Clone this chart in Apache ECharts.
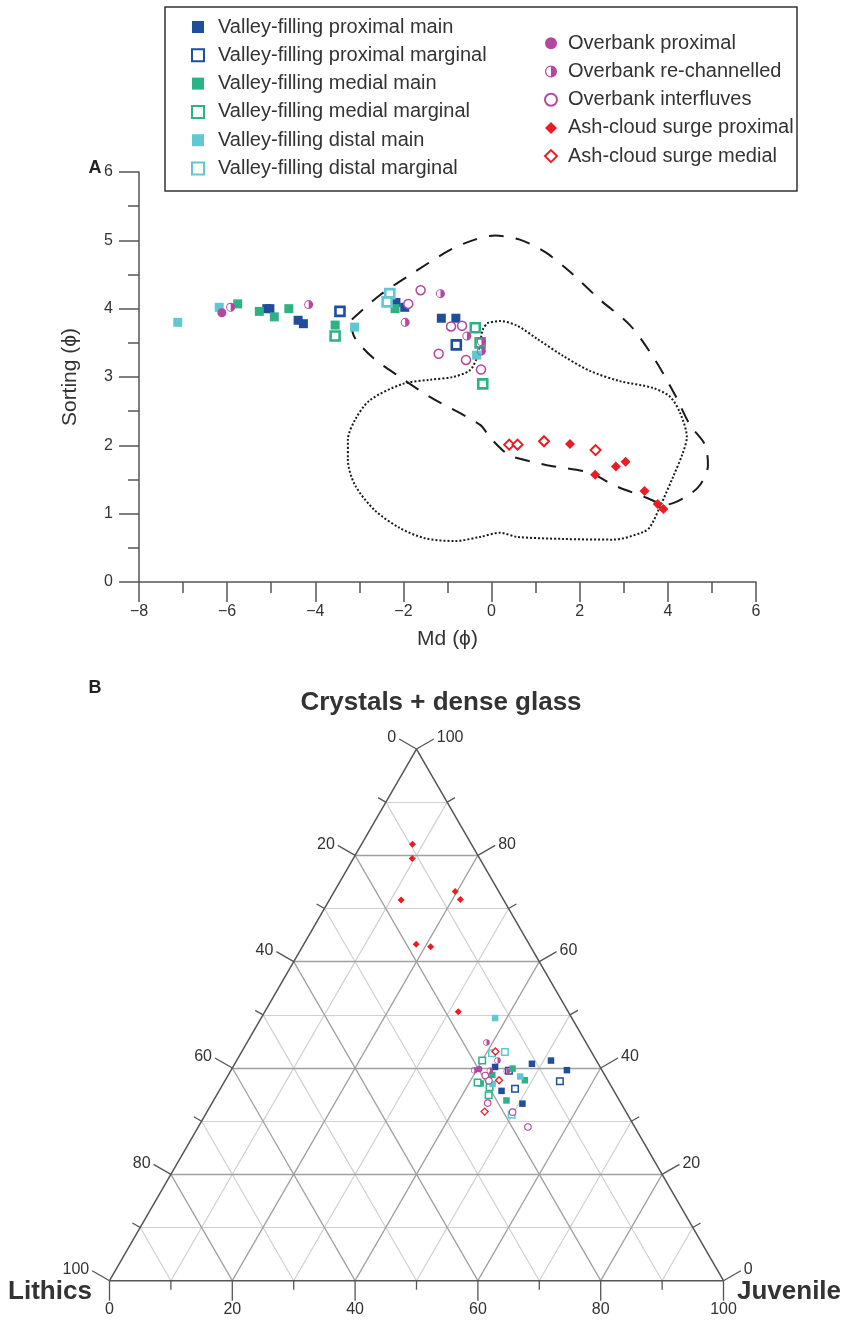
<!DOCTYPE html>
<html lang="en">
<head>
<meta charset="UTF-8">
<title>Md vs sorting, componentry ternary</title>
<script src="https://cdn.jsdelivr.net/npm/echarts@6/dist/echarts.min.js"></script>
<style>
html, body { margin: 0; padding: 0; background: #fff; }
#chart { width: 841px; height: 1325px; }
</style>
</head>
<body>
<div id="chart"></div>
<script>
// ---------- panel A : Md (phi) vs Sorting (phi) ----------
var vfProxMainA = [[-5.10,4.00],[-5.03,4.00],[-4.39,3.83],[-4.27,3.78],[-2.17,4.09],[-1.97,4.02],[-1.14,3.86],[-0.81,3.86]];
var vfProxMargA = [[-3.44,3.96],[-0.80,3.47]];
var vfMedMainA = [[-5.76,4.07],[-5.27,3.96],[-4.93,3.88],[-4.60,4.00],[-3.55,3.76],[-2.19,4.00]];
var vfMedMargA = [[-3.55,3.60],[-0.37,3.72],[-0.26,3.50],[-0.20,2.90]];
var vfDistMainA = [[-7.12,3.80],[-6.18,4.02],[-3.11,3.73],[-0.34,3.32]];
var vfDistMargA = [[-2.31,4.22],[-2.37,4.10]];
var obProxA = [[-6.12,3.94]];
var obRechA = [[-5.92,4.02],[-4.15,4.06],[-1.16,4.22],[-1.96,3.80],[-0.56,3.60],[-0.23,3.52],[-0.23,3.38]];
var obInterA = [[-1.89,4.07],[-1.61,4.27],[-0.92,3.74],[-0.67,3.75],[-1.20,3.34],[-0.58,3.25],[-0.24,3.11]];
var ashProxA = [[1.78,2.02],[3.04,1.76],[2.82,1.69],[2.35,1.57],[3.47,1.33],[3.77,1.14],[3.90,1.07]];
var ashMedA = [[0.40,2.01],[0.59,2.01],[1.19,2.06],[2.36,1.93]];

// field envelopes (outline vertices)
var dashedField = [[-3.17,3.84],[-2.53,4.20],[-1.74,4.54],[-0.94,4.86],[-0.38,5.01],[0.08,5.07],[0.64,5.01],
  [1.21,4.83],[1.78,4.54],[2.46,4.13],[3.14,3.76],[3.71,3.25],[4.16,2.74],[4.50,2.30],[4.84,2.01],[4.91,1.71],
  [4.73,1.42],[4.39,1.24],[3.94,1.13],[3.53,1.23],[2.76,1.42],[2.23,1.60],[1.26,1.71],[0.49,1.83],[0.30,1.90],
  [-0.04,2.12],[-0.26,2.30],[-1.40,2.71],[-2.08,3.00],[-2.69,3.28],[-3.10,3.57],[-3.17,3.76],[-3.17,3.84]];
var dottedField = [[-0.10,3.79],[0.19,3.82],[0.58,3.75],[1.03,3.56],[1.62,3.31],[2.23,3.09],[2.91,2.94],[3.66,2.84],
  [4.05,2.71],[4.28,2.47],[4.43,2.12],[4.34,1.89],[4.12,1.54],[3.82,1.10],[3.60,0.81],[3.44,0.73],[2.76,0.62],
  [1.62,0.63],[0.58,0.66],[0.19,0.72],[-0.26,0.66],[-0.83,0.60],[-1.51,0.64],[-2.08,0.79],[-2.65,1.05],[-3.10,1.42],
  [-3.26,1.79],[-3.26,2.08],[-3.10,2.37],[-2.76,2.66],[-2.01,2.90],[-1.40,2.96],[-0.88,3.00],[-0.49,3.10],
  [-0.33,3.29],[-0.26,3.50],[-0.20,3.69],[-0.10,3.79]];

// ---------- panel B : ternary, [crystals + dense glass %, juvenile %], lithics = remainder ----------
var vfProxMainB = [[40.8,48.4],[41.4,51.2],[39.6,54.7],[40.2,42.7],[35.7,46.0],[33.3,50.6]];
var vfProxMargB = [[37.5,54.6],[39.5,45.3],[36.1,48.0]];
var vfMedMainB = [[39.9,45.7],[37.7,48.8],[38.7,43.0],[37.1,41.9],[33.9,47.7]];
var vfMedMargB = [[41.4,40.0],[37.3,41.3],[36.4,43.7],[34.9,44.3]];
var vfDistMainB = [[49.4,38.1],[38.4,47.7],[37.0,43.9]];
var vfDistMargB = [[42.8,40.9],[43.0,42.9],[31.2,49.9]];
var obProxB = [[39.8,40.3]];
var obRechB = [[44.8,39.0],[41.4,42.5],[39.6,39.6],[39.5,42.2],[39.4,45.0]];
var obInterB = [[38.6,41.9],[37.6,43.0],[33.4,44.9],[31.7,49.8],[28.9,53.7]];
var ashProxB = [[82.1,8.3],[79.4,9.6],[73.2,19.7],[71.7,21.3],[71.6,11.7],[63.3,18.3],[62.8,20.9],[50.6,31.5]];
var ashMedB = [[43.1,41.3],[37.7,44.6],[31.8,45.2]];

var ternTicks = [0,10,20,30,40,50,60,70,80,90,100];

var BLUE = '#1f4e9d', GREEN = '#2db383', CYAN = '#5fc8d3', MAG = '#b4479f', RED = '#ed1c24';
var HALF = 'path://M10 0A10 10 0 1 1 10 20A10 10 0 1 1 10 0ZM10 2A8 8 0 0 0 10 18Z';
var FONT = "'Liberation Sans', Arial, sans-serif";

var groups = [
  {name: 'Valley-filling proximal main', color: BLUE, kind: 'sq', a: vfProxMainA, b: vfProxMainB},
  {name: 'Valley-filling proximal marginal', color: BLUE, kind: 'sqo', a: vfProxMargA, b: vfProxMargB},
  {name: 'Valley-filling medial main', color: GREEN, kind: 'sq', a: vfMedMainA, b: vfMedMainB},
  {name: 'Valley-filling medial marginal', color: GREEN, kind: 'sqo', a: vfMedMargA, b: vfMedMargB},
  {name: 'Valley-filling distal main', color: CYAN, kind: 'sq', a: vfDistMainA, b: vfDistMainB},
  {name: 'Valley-filling distal marginal', color: CYAN, kind: 'sqo', a: vfDistMargA, b: vfDistMargB},
  {name: 'Overbank proximal', color: MAG, kind: 'ci', a: obProxA, b: obProxB},
  {name: 'Overbank re-channelled', color: MAG, kind: 'half', a: obRechA, b: obRechB},
  {name: 'Overbank interfluves', color: MAG, kind: 'cio', a: obInterA, b: obInterB},
  {name: 'Ash-cloud surge proximal', color: RED, kind: 'di', a: ashProxA, b: ashProxB},
  {name: 'Ash-cloud surge medial', color: RED, kind: 'dio', a: ashMedA, b: ashMedB}
];

function markStyle(kind, color, big) {
  if (kind == 'sq') return {symbol: 'rect', itemStyle: {color: color, opacity: 1}};
  if (kind == 'sqo') return {symbol: 'rect', itemStyle: {color: '#fff', borderColor: color, borderWidth: big ? 2.6 : 1.5, opacity: 1}};
  if (kind == 'ci') return {symbol: 'circle', itemStyle: {color: color, opacity: 1}};
  if (kind == 'half') return {symbol: HALF, itemStyle: {color: color, opacity: 1}};
  if (kind == 'cio') return {symbol: 'circle', itemStyle: {color: '#fff', borderColor: color, borderWidth: big ? 1.5 : 1.1, opacity: 1}};
  if (kind == 'di') return {symbol: 'diamond', itemStyle: {color: color, opacity: 1}};
  return {symbol: 'diamond', itemStyle: {color: '#fff', borderColor: color, borderWidth: big ? 2 : 1.3, opacity: 1}};
}

// ternary -> hidden cartesian (x = juvenile + crystals/2, y = crystals)
function tern(c, j) { return [j + c / 2, c]; }

var series = [];

series.push({type: 'line', data: dashedField, xAxisIndex: 0, yAxisIndex: 0, symbol: 'none', smooth: 0.3,
  silent: true, z: 1, lineStyle: {color: '#1a1a1a', width: 2, type: [15, 12]}});
series.push({type: 'line', data: dottedField, xAxisIndex: 0, yAxisIndex: 0, symbol: 'none', smooth: 0.3,
  silent: true, z: 1, lineStyle: {color: '#1a1a1a', width: 2, type: [2, 2]}});

groups.forEach(function (g) {
  var st = markStyle(g.kind, g.color, true);
  series.push({type: 'scatter', name: g.name, xAxisIndex: 0, yAxisIndex: 0, data: g.a,
    symbol: st.symbol, symbolSize: g.kind.charAt(0) == 'd' ? 10 : 9, itemStyle: st.itemStyle, z: 5});
});

// ternary grid lines
var majorLines = [], minorLines = [];
ternTicks.forEach(function (k) {
  if (k == 0 || k == 100) return;
  var target = k % 20 == 0 ? majorLines : minorLines;
  target.push({coords: [tern(k, 0), tern(k, 100 - k)]});         // constant crystals
  target.push({coords: [tern(0, k), tern(100 - k, k)]});         // constant juvenile
  target.push({coords: [tern(0, 100 - k), tern(100 - k, 0)]});   // constant lithics
});
series.push({type: 'lines', coordinateSystem: 'cartesian2d', xAxisIndex: 1, yAxisIndex: 1, data: minorLines,
  silent: true, z: 1, lineStyle: {color: '#d0d0d0', width: 1.2, opacity: 1}});
series.push({type: 'lines', coordinateSystem: 'cartesian2d', xAxisIndex: 1, yAxisIndex: 1, data: majorLines,
  silent: true, z: 2, lineStyle: {color: '#a0a0a0', width: 1.3, opacity: 1}});
series.push({type: 'line', xAxisIndex: 1, yAxisIndex: 1, symbol: 'none', silent: true, clip: false, z: 3,
  data: [tern(0, 0), tern(0, 100), tern(100, 0), tern(0, 0)], lineStyle: {color: '#555', width: 1.5}});

// ternary ticks and labels: [x, y, side(0 bottom, 1 left, 2 right), value]
var tickData = [];
ternTicks.forEach(function (v) {
  tickData.push(tern(0, v).concat([0, v]));
  tickData.push(tern(100 - v, 0).concat([1, v]));
  tickData.push(tern(v, 100 - v).concat([2, v]));
});
var dirs = [[0, 1], [-0.866, -0.5], [0.866, -0.5]];
series.push({type: 'custom', xAxisIndex: 1, yAxisIndex: 1, data: tickData, silent: true, clip: false, z: 3,
  renderItem: function (params, api) {
    var p = api.coord([api.value(0), api.value(1)]);
    var side = api.value(2), v = api.value(3);
    var major = v % 20 == 0;
    var len = major ? 20 : 9;
    var d = dirs[side];
    var e = [p[0] + d[0] * len, p[1] + d[1] * len];
    var kids = [{type: 'line', shape: {x1: p[0], y1: p[1], x2: e[0], y2: e[1]}, style: {stroke: '#555', lineWidth: 1.3}}];
    if (major) {
      var t = {text: String(v), fill: '#333', font: '16px ' + FONT};
      if (side == 0) { t.x = e[0]; t.y = e[1] + 1; t.align = 'center'; t.verticalAlign = 'top'; }
      else if (side == 1) { t.x = e[0] - 3; t.y = e[1] - 1; t.align = 'right'; t.verticalAlign = 'middle'; }
      else { t.x = e[0] + 3; t.y = e[1] - 1; t.align = 'left'; t.verticalAlign = 'middle'; }
      kids.push({type: 'text', style: t});
    }
    return {type: 'group', children: kids};
  }});

groups.forEach(function (g) {
  var st = markStyle(g.kind, g.color, false);
  series.push({type: 'scatter', name: g.name, xAxisIndex: 1, yAxisIndex: 1,
    data: g.b.map(function (p) { return tern(p[0], p[1]); }),
    symbol: st.symbol, symbolSize: g.kind.charAt(0) == 'd' ? 7 : 6.5, itemStyle: st.itemStyle, z: 5});
});

var legendText = {fontSize: 20, color: '#333', fontFamily: FONT, lineHeight: 22};

var option = {
  animation: false,
  backgroundColor: '#fff',
  textStyle: {fontFamily: FONT},
  legend: [
    {data: groups.slice(0, 6).map(function (g) { return g.name; }), orient: 'vertical', left: 186, top: 11,
      itemWidth: 12, itemHeight: 12, itemGap: 6.3, selectedMode: false,
      textStyle: Object.assign({padding: [0, 0, 0, 9]}, legendText)},
    {data: groups.slice(6).map(function (g) { return g.name; }), orient: 'vertical', left: 539, top: 27.3,
      itemWidth: 12, itemHeight: 12, itemGap: 6.2, selectedMode: false,
      textStyle: Object.assign({padding: [0, 0, 0, 6]}, legendText)}
  ],
  grid: [
    {left: 139, top: 172, width: 617, height: 410},
    {left: 109.5, top: 749, width: 614, height: 531.7}
  ],
  xAxis: [
    {type: 'value', gridIndex: 0, min: -8, max: 6, interval: 2,
      name: 'Md (\u03d5)', nameLocation: 'middle', nameGap: 47,
      nameTextStyle: {fontSize: 21, color: '#333'},
      axisLine: {onZero: false, lineStyle: {color: '#555', width: 1.5}},
      axisTick: {length: 20, lineStyle: {color: '#555', width: 1.5}},
      minorTick: {show: true, splitNumber: 2, length: 11, lineStyle: {color: '#555', width: 1.5}},
      splitLine: {show: false},
      axisLabel: {fontSize: 16, color: '#333', margin: 22,
        formatter: function (v) { return String(v).replace('-', '\u2212'); }}},
    {type: 'value', gridIndex: 1, min: 0, max: 100, show: false}
  ],
  yAxis: [
    {type: 'value', gridIndex: 0, min: 0, max: 6, interval: 1,
      name: 'Sorting (\u03d5)', nameLocation: 'middle', nameGap: 58,
      nameTextStyle: {fontSize: 21, color: '#333'},
      axisLine: {show: true, onZero: false, lineStyle: {color: '#555', width: 1.5}},
      axisTick: {show: true, length: 20, lineStyle: {color: '#555', width: 1.5}},
      minorTick: {show: true, splitNumber: 2, length: 11, lineStyle: {color: '#555', width: 1.5}},
      splitLine: {show: false},
      axisLabel: {fontSize: 16, color: '#333', margin: 26}},
    {type: 'value', gridIndex: 1, min: 0, max: 100, show: false}
  ],
  graphic: [
    {type: 'rect', shape: {x: 165, y: 7, width: 632, height: 184}, style: {fill: 'none', stroke: '#333', lineWidth: 1.5}, z: 0},
    {type: 'text', style: {text: 'A', x: 95, y: 168, align: 'center', verticalAlign: 'middle', font: 'bold 18px ' + FONT, fill: '#222'}},
    {type: 'text', style: {text: 'B', x: 95, y: 688, align: 'center', verticalAlign: 'middle', font: 'bold 18px ' + FONT, fill: '#222'}},
    {type: 'text', style: {text: 'Crystals + dense glass', x: 441, y: 703, align: 'center', verticalAlign: 'middle', font: 'bold 26px ' + FONT, fill: '#333'}},
    {type: 'text', style: {text: 'Lithics', x: 50, y: 1292, align: 'center', verticalAlign: 'middle', font: 'bold 26px ' + FONT, fill: '#333'}},
    {type: 'text', style: {text: 'Juvenile', x: 737, y: 1292, align: 'left', verticalAlign: 'middle', font: 'bold 26px ' + FONT, fill: '#333'}}
  ],
  series: series
};

var myChart = echarts.init(document.getElementById('chart'));
myChart.setOption(option);
</script>
</body>
</html>
